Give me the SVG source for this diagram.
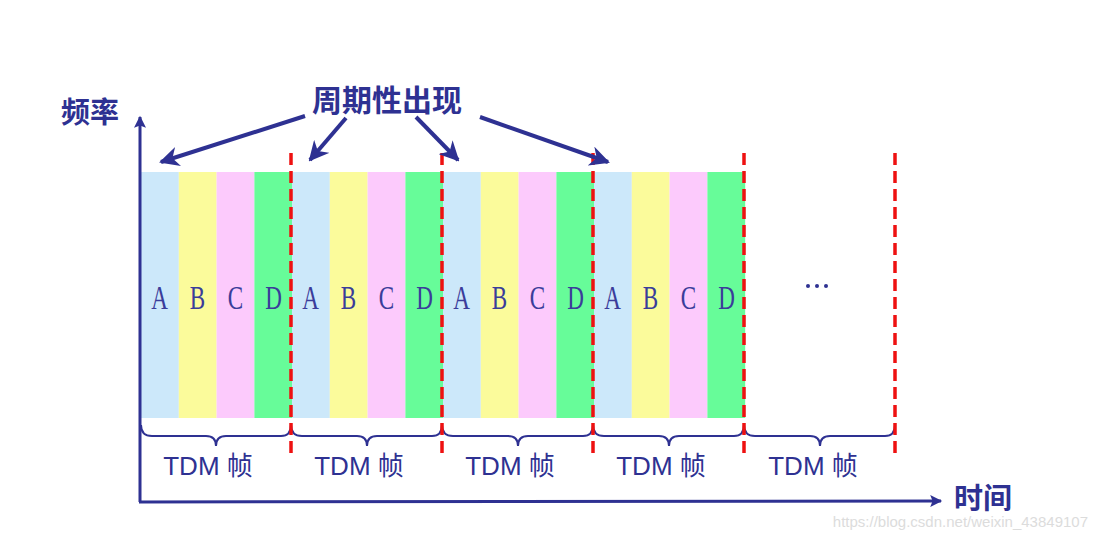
<svg xmlns="http://www.w3.org/2000/svg" width="1097" height="542" viewBox="0 0 1097 542">
<defs>
<style>
.a{fill:#cce8fa}.b{fill:#fbfb9b}.c{fill:#fccafc}.d{fill:#67fc99}
.lt{font-family:"Liberation Serif",serif;font-size:34px;fill:#3a3d9a;text-anchor:middle}
.tdm{font-family:"Liberation Sans","Noto Sans CJK SC",sans-serif;font-size:26px;fill:#2e3192;text-anchor:middle}
.big{font-family:"Noto Sans CJK SC",sans-serif;font-weight:bold;fill:#2e3192}
.dash{stroke:#ee1111;stroke-width:3.5;stroke-dasharray:12 6;fill:none}
.ax{stroke:#2e3192;stroke-width:3;fill:none}
.br{stroke:#2e3192;stroke-width:2;fill:none}
.arr{stroke:#2e3192;stroke-width:4;fill:none}
</style>
<marker id="ah" viewBox="0 0 10 10" refX="9" refY="5" markerWidth="5" markerHeight="5" markerUnits="strokeWidth" orient="auto"><path d="M0,0 L10,5 L0,10 L3,5 z" fill="#2e3192"/></marker>
<marker id="axh" viewBox="0 0 10 10" refX="9" refY="5" markerWidth="5" markerHeight="4" markerUnits="strokeWidth" orient="auto"><path d="M0,0 L10,5 L0,10 L2,5 z" fill="#2e3192"/></marker>
<g id="slot"><rect class="a" x="0" y="172" width="37.8" height="246"/><rect class="b" x="37.8" y="172" width="37.8" height="246"/><rect class="c" x="75.6" y="172" width="37.8" height="246"/><rect class="d" x="113.4" y="172" width="37.8" height="246"/>
<text class="lt" transform="translate(18.5,309) scale(0.68,1)">A</text><text class="lt" transform="translate(56.5,309) scale(0.68,1)">B</text><text class="lt" transform="translate(94.5,309) scale(0.68,1)">C</text><text class="lt" transform="translate(132.5,309) scale(0.68,1)">D</text></g>
</defs>
<rect width="1097" height="542" fill="#fff"/>
<g id="frame1"><use href="#slot" x="141"/></g>
<g id="frame2"><use href="#slot" x="292"/></g>
<g id="frame3"><use href="#slot" x="443"/></g>
<g id="frame4"><use href="#slot" x="594"/></g>
<g id="ellipsis"><circle cx="808" cy="286" r="2" fill="#2e3192"/><circle cx="817" cy="286" r="2" fill="#2e3192"/><circle cx="826" cy="286" r="2" fill="#2e3192"/></g>
<g id="braces">
<path class="br" d="M141,425 Q141,436 152,436 L206,436 Q216,436 216,446 Q216,436 226,436 L281,436 Q291,436 291,425"/>
<path class="br" d="M291,425 Q291,436 302,436 L357,436 Q367,436 367,446 Q367,436 377,436 L432,436 Q442,436 442,425"/>
<path class="br" d="M442,425 Q442,436 453,436 L508,436 Q518,436 518,446 Q518,436 528,436 L583,436 Q593,436 593,425"/>
<path class="br" d="M593,425 Q593,436 604,436 L659,436 Q669,436 669,446 Q669,436 679,436 L734,436 Q744,436 744,425"/>
<path class="br" d="M744,425 Q744,436 755,436 L810,436 Q820,436 820,446 Q820,436 830,436 L885,436 Q895,436 895,425"/>
</g>
<g id="labels">
<text class="tdm" x="208" y="475">TDM 帧</text>
<text class="tdm" x="359" y="475">TDM 帧</text>
<text class="tdm" x="510" y="475">TDM 帧</text>
<text class="tdm" x="661" y="475">TDM 帧</text>
<text class="tdm" x="813" y="475">TDM 帧</text>
</g>
<g id="separators">
<line class="dash" x1="291" y1="153" x2="291" y2="456"/>
<line class="dash" x1="442" y1="153" x2="442" y2="456"/>
<line class="dash" x1="593" y1="153" x2="593" y2="456"/>
<line class="dash" x1="744" y1="153" x2="744" y2="456"/>
<line class="dash" x1="895" y1="153" x2="895" y2="456"/>
</g>
<g id="axes">
<path class="ax" d="M140,502 L140,117" marker-end="url(#axh)"/>
<path class="ax" d="M139,502 L941,501" marker-end="url(#axh)"/>
</g>
<g id="axis-labels">
<text class="big" x="61" y="123" font-size="29">频率</text>
<text class="big" x="954" y="509" font-size="29">时间</text>
<text class="big" x="312" y="111" font-size="30">周期性出现</text>
</g>
<g id="connectors">
<path class="arr" d="M305,116 L161,162" marker-end="url(#ah)"/>
<path class="arr" d="M346,118 L310,160" marker-end="url(#ah)"/>
<path class="arr" d="M416,117 L458,160" marker-end="url(#ah)"/>
<path class="arr" d="M480,117 L608,162" marker-end="url(#ah)"/>
</g>
<text x="1088" y="527" font-family="Liberation Sans,sans-serif" font-size="15" fill="#dcdcdc" text-anchor="end">https://blog.csdn.net/weixin_43849107</text>
</svg>
